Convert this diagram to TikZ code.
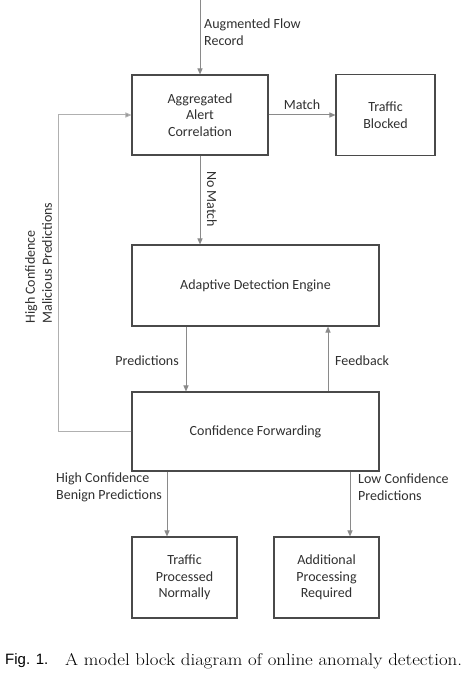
\documentclass[tikz,border=0pt]{standalone}
\usepackage{fontspec}
\newfontfamily\diag{Carlito}
\newfontfamily\capsans{Liberation Sans}
\usetikzlibrary{arrows.meta}
\definecolor{boxc}{HTML}{4A4A4A}
\definecolor{arrc}{HTML}{8A8A8A}
\definecolor{loopc}{HTML}{B0B0B0}
\definecolor{txtc}{HTML}{303030}
\begin{document}
\begin{tikzpicture}[x=1pt,y=-1pt,
  block/.style={draw=boxc, line width=1.1pt, rectangle, align=center, text=txtc,
    font=\diag\fontsize{14}{16.5}\selectfont, inner sep=0pt},
  lbl/.style={text=txtc, font=\diag\fontsize{14}{17}\selectfont, inner sep=0pt},
  arr/.style={draw=arrc, line width=1pt, -{Triangle[length=6pt,width=5pt]}},
  looparr/.style={draw=loopc, line width=1pt, -{Triangle[length=6pt,width=5pt,fill=arrc]}}]
\useasboundingbox (0,0) rectangle (471,679);
\fill[white] (0,0) rectangle (471,679);

% blocks
\node[block, minimum width=136pt, minimum height=80pt] (aac) at (200,115) {Aggregated\\Alert\\Correlation};
\node[block, minimum width=99pt, minimum height=81pt] (tb) at (385.5,115) {Traffic\\Blocked};
\node[block, minimum width=247pt, minimum height=81pt] (ade) at (255.5,285.5) {Adaptive Detection Engine};
\node[block, minimum width=247pt, minimum height=79pt] (cf) at (255.5,431.5) {Confidence Forwarding};
\node[block, minimum width=105pt, minimum height=81pt] (tpn) at (184.5,577.5) {Traffic\\Processed\\Normally};
\node[block, minimum width=105pt, minimum height=81pt] (apr) at (326.5,577.5) {Additional\\Processing\\Required};

% helper coordinates
\coordinate (src) at (200,0);
\coordinate (px) at (186,0);
\coordinate (fx) at (328,0);
\coordinate (lx) at (58,0);
\coordinate (bx) at (167,0);
\coordinate (rx) at (350,0);

% connectors
\draw[arr] (src) -- (aac.north);
\draw[arr] (aac.east) -- (tb.west);
\draw[arr] (aac.south) -- (aac.south |- ade.north);
\draw[arr] (ade.south -| px) -- (cf.north -| px);
\draw[arr] (cf.north -| fx) -- (ade.south -| fx);
\draw[looparr] (cf.west) -- (cf.west -| lx) -- (aac.west -| lx) -- (aac.west);
\draw[arr] (cf.south -| bx) -- (tpn.north -| bx);
\draw[arr] (cf.south -| rx) -- (apr.north -| rx);

% labels
\node[lbl, align=left, anchor=west] (lin) at (204,32) {Augmented Flow\\Record};
\node[lbl] (lmatch) at (302,105) {Match};
\node[lbl, rotate=-90] (lnomatch) at (212,199) {No Match};
\node[lbl, anchor=east] (lpred) at (179,361) {Predictions};
\node[lbl, anchor=west] (lfeed) at (335,361) {Feedback};
\node[lbl, align=left, rotate=90] (lmal) at (38.5,263) {High Confidence\\Malicious Predictions};
\node[lbl, align=left, anchor=west] (lben) at (56,487.5) {High Confidence\\Benign Predictions};
\node[lbl, align=left, anchor=west] (llow) at (358,487.5) {Low Confidence\\Predictions};

% caption
\node[anchor=west, inner sep=0pt, font=\capsans\fontsize{15}{18}\selectfont] (figno) at (5,661) {Fig. 1.};
\node[anchor=west, inner sep=0pt, font=\fontsize{17}{20}\selectfont] (cap) at (65,661) {\scalebox{1.11}[1]{A model block diagram of online anomaly detection.}};
\end{tikzpicture}
\end{document}
